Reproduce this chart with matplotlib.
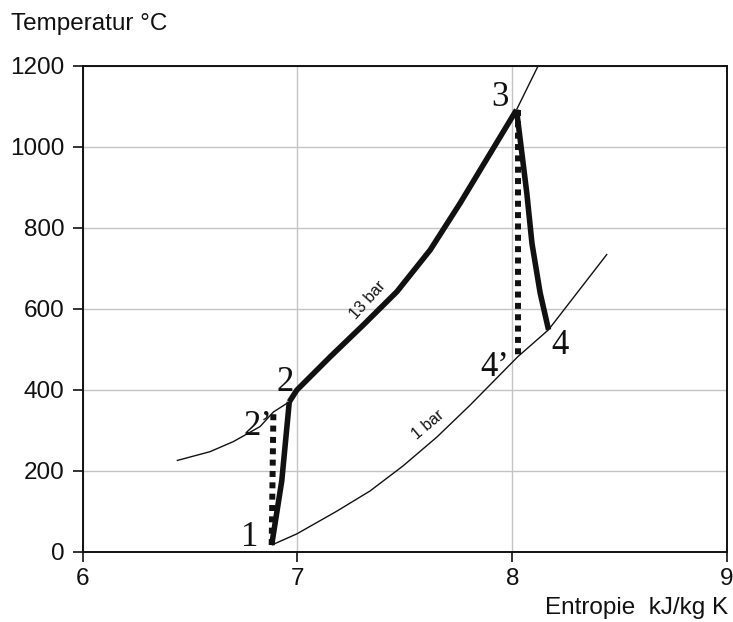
import matplotlib
matplotlib.use("Agg")
import matplotlib.pyplot as plt

# ── data (entropy s in kJ/kg K, temperature T in °C) ──────────────────────────
# 13 bar isobar, thin part below point 2
s_13_low = [6.438, 6.593, 6.702, 6.826, 6.888, 6.962]
T_13_low = [225, 247, 272, 309, 345, 370]
# 13 bar isobar, heat addition 2 -> 3 (thick)
s_13_heat = [6.962, 6.997, 7.152, 7.307, 7.463, 7.618, 7.758, 8.020]
T_13_heat = [370, 399, 481, 560, 642, 745, 861, 1091]
# 13 bar isobar, thin part above point 3
s_13_high = [8.020, 8.121]
T_13_high = [1091, 1200]

# 1 bar isobar
s_1bar = [6.880, 6.997, 7.183, 7.338, 7.492, 7.649, 7.804, 8.025, 8.169, 8.442]
T_1bar = [16.5, 44, 100, 150, 212, 283, 362, 481, 548, 735]

# real compression 1 -> 2 and real expansion 3 -> 4
s_comp = [6.880, 6.927, 6.962]
T_comp = [16.5, 175, 370]
s_exp = [8.020, 8.068, 8.092, 8.130, 8.169]
T_exp = [1091, 885, 761, 639, 548]

# isentropic compression 1 -> 2' and expansion 3 -> 4'
s_comp_is = [6.880, 6.888]
T_comp_is = [16.5, 345]
s_exp_is = [8.025, 8.025]
T_exp_is = [1091, 481]

# state point labels
pt_labels = ["1", "2\u2019", "2", "3", "4", "4\u2019"]
pt_s = [6.779, 6.817, 6.943, 7.944, 8.224, 7.921]
pt_T = [36, 308, 419, 1122, 510, 454]

x_ticks = [6, 7, 8, 9]
y_ticks = [0, 200, 400, 600, 800, 1000, 1200]

# ── plot ──────────────────────────────────────────────────────────────────────
plt.rcParams["font.family"] = ["Liberation Sans", "DejaVu Sans"]

fig = plt.figure(figsize=(7.33, 6.22), dpi=100)
ax = fig.add_axes([0.1128, 0.1130, 0.8790, 0.7814])

ax.set_xlim(6, 9)
ax.set_ylim(0, 1200)
ax.set_xticks(x_ticks)
ax.set_yticks(y_ticks)
ax.grid(True, color="#c4c4c4", lw=1.0)
ax.set_axisbelow(True)
for sp in ax.spines.values():
    sp.set_linewidth(1.4)
    sp.set_color("#111111")
ax.tick_params(direction="out", length=7, width=1.2, labelsize=17.5,
               colors="#111111")
ax.tick_params(axis="y", pad=6)
ax.tick_params(axis="x", pad=5)

thin = dict(color="#111111", lw=1.0, solid_capstyle="butt")
thick = dict(color="#111111", lw=4.0, solid_capstyle="butt",
             solid_joinstyle="round")
dots = dict(color="#111111", lw=4.3, linestyle=(0, (1.0, 0.9)),
            dash_capstyle="butt")

ax.plot(s_13_low, T_13_low, **thin)
ax.plot(s_13_high, T_13_high, **thin, clip_on=False)
ax.plot(s_1bar, T_1bar, **thin)
ax.plot(s_comp_is, T_comp_is, **dots)
ax.plot(s_exp_is, T_exp_is, **dots)
ax.plot(s_13_heat, T_13_heat, **thick)
ax.plot(s_comp, T_comp, **thick)
ax.plot(s_exp, T_exp, **thick)

for lab, s, T in zip(pt_labels, pt_s, pt_T):
    ax.text(s, T, lab, family="Liberation Serif", fontsize=25,
            ha="center", va="center", color="#111111")

ax.text(7.329, 621, "13 bar", fontsize=11.5, rotation=48,
        ha="center", va="center", rotation_mode="anchor", color="#111111")
ax.text(7.609, 313, "1 bar", fontsize=11.5, rotation=40,
        ha="center", va="center", rotation_mode="anchor", color="#111111")

fig.text(11 / 733, 1 - 24 / 622, "Temperatur \u00b0C", fontsize=17.5,
         ha="left", va="center", color="#111111")
fig.text(728 / 733, 1 - 608 / 622, "Entropie  kJ/kg K", fontsize=17.5,
         ha="right", va="center", color="#111111")

fig.savefig("out.png", dpi=100)
